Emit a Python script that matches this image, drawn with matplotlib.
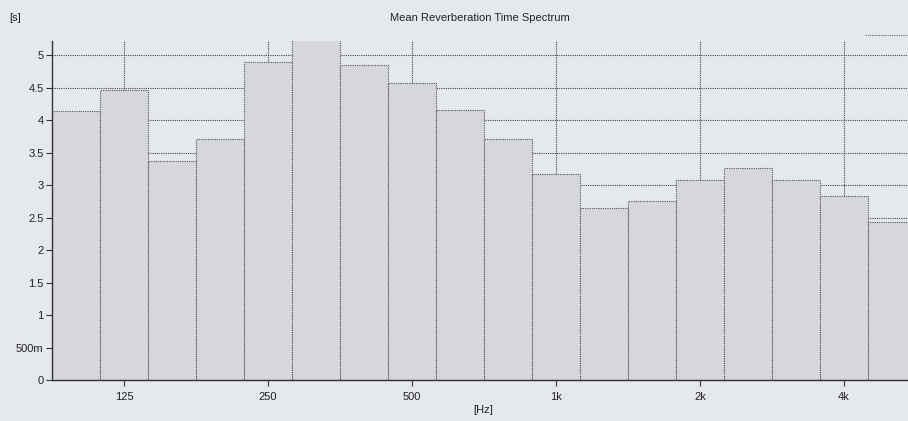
import numpy as np
import matplotlib
matplotlib.use('Agg')
from matplotlib import pyplot as plt

# third-octave bands and mean reverberation time (s)
bands = ['100', '125', '160', '200', '250', '315', '400', '500', '630',
         '800', '1k', '1.25k', '1.6k', '2k', '2.5k', '3.15k', '4k', '5k']
rt = [4.14, 4.46, 3.37, 3.71, 4.89, 5.6, 4.85, 4.58, 4.15,
      3.71, 3.17, 2.65, 2.75, 3.08, 3.26, 3.08, 2.83, 2.43]
tick_idx = [1, 4, 7, 10, 13, 16]
tick_labels = ['125', '250', '500', '1k', '2k', '4k']
y_ticks = [0, 0.5, 1, 1.5, 2, 2.5, 3, 3.5, 4, 4.5, 5]
y_labels = ['0', '500m', '1', '1.5', '2', '2.5', '3', '3.5', '4', '4.5', '5']

plt.rcParams['font.family'] = ['Liberation Sans', 'DejaVu Sans']
bg = '#e5e8ec'
fig = plt.figure(figsize=(9.08, 4.21), dpi=100, facecolor=bg)
ax = fig.add_axes([52/908, 1-380/421, 1-52/908, (380-41)/421])
ax.set_facecolor(bg)

x = np.arange(len(bands))
ax.bar(x, rt, width=1.0, color='#d5d7da', edgecolor='#555555',
       linewidth=0.8, linestyle=(0, (1, 1)), zorder=2)

ax.set_xlim(-0.5, 16.5 + 40/48)
ax.set_ylim(0, 5.22)
ax.set_xticks(tick_idx)
ax.set_xticklabels(tick_labels)
ax.set_yticks(y_ticks)
ax.set_yticklabels(y_labels)
ax.tick_params(labelsize=8, length=4, width=0.8, color='#333', labelcolor='#222')
ax.tick_params(axis='x', pad=5)
ax.tick_params(axis='y', pad=2)
ax.grid(True, color='#444', linestyle=(0, (1, 1)), linewidth=0.8, zorder=0)
ax.set_axisbelow(True)
for s in ['top', 'right']:
    ax.spines[s].set_visible(False)
for s in ['left', 'bottom']:
    ax.spines[s].set_color('#333')
    ax.spines[s].set_linewidth(1.0)

fig.text(480/908, 1-18/421, 'Mean Reverberation Time Spectrum', ha='center', va='center',
         fontsize=8, color='#222')
fig.text(9/908, 1-18/421, '[s]', ha='left', va='center', fontsize=8, color='#222')
fig.text(483/908, 1-410/421, '[Hz]', ha='center', va='center', fontsize=8, color='#222')
fig.add_artist(plt.Line2D([865/908, 1], [1-35/421, 1-35/421], color='#666',
                          linestyle=(0, (1, 1)), linewidth=0.8))

fig.savefig('out.png', dpi=100, facecolor=bg)
